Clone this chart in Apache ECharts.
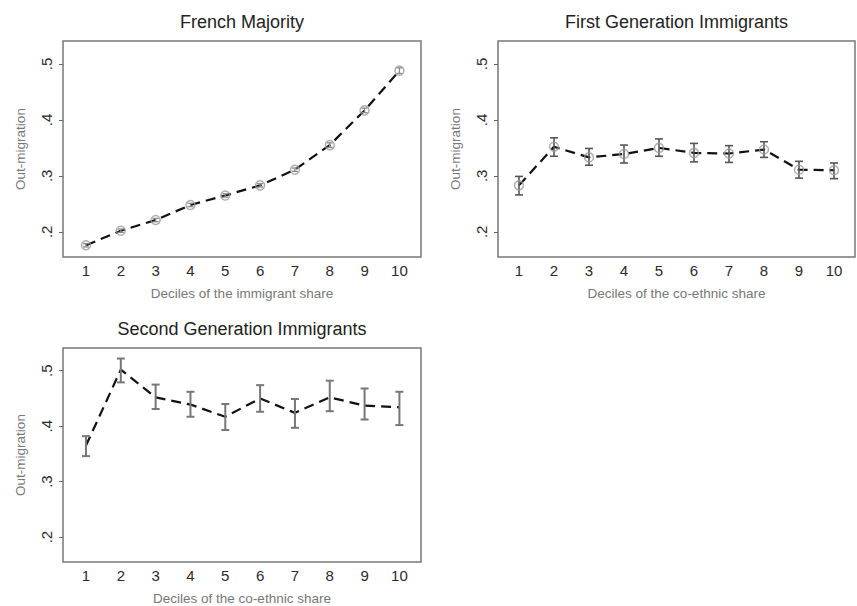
<!DOCTYPE html>
<html><head><meta charset="utf-8">
<script src="https://cdn.jsdelivr.net/npm/echarts@6/dist/echarts.min.js"></script>
<style>html,body{margin:0;padding:0;background:#fff}#c{width:857px;height:606px}</style>
</head><body><div id="c"></div>
<script>
const deciles = [1,2,3,4,5,6,7,8,9,10];
const yTicks = [0.2,0.3,0.4,0.5];
const titles = ['French Majority','First Generation Immigrants','Second Generation Immigrants'];
const xNames = ['Deciles of the immigrant share','Deciles of the co-ethnic share','Deciles of the co-ethnic share'];
const yName = 'Out-migration';

const frenchMean = [0.176,0.202,0.221,0.248,0.265,0.283,0.311,0.355,0.417,0.488];
const frenchHi   = [0.179,0.205,0.224,0.251,0.268,0.286,0.314,0.359,0.421,0.493];
const frenchLo   = [0.173,0.199,0.218,0.245,0.262,0.280,0.308,0.351,0.413,0.483];

const firstMean = [0.283,0.352,0.333,0.339,0.350,0.341,0.340,0.347,0.311,0.310];
const firstHi   = [0.299,0.368,0.349,0.355,0.366,0.358,0.354,0.361,0.326,0.323];
const firstLo   = [0.266,0.335,0.319,0.323,0.335,0.325,0.324,0.333,0.296,0.295];

const secondMean = [0.365,0.502,0.452,0.439,0.417,0.450,0.424,0.452,0.437,0.434];
const secondHi   = [0.382,0.522,0.475,0.462,0.440,0.474,0.449,0.482,0.468,0.462];
const secondLo   = [0.346,0.479,0.431,0.417,0.393,0.426,0.397,0.427,0.412,0.402];

const FONT = 'Liberation Sans, Arial, sans-serif';
const panels = [
  {mean: frenchMean, hi: frenchHi, lo: frenchLo, grid:{left:63, top:41, width:358, height:216}, xr:[0.34,10.62], marker:true, errColor:'#8a8a8a', errW:1.3, cap:6},
  {mean: firstMean, hi: firstHi, lo: firstLo, grid:{left:498, top:41, width:357, height:216}, xr:[0.4,10.6], marker:true, errColor:'#555', errW:1.6, cap:8},
  {mean: secondMean, hi: secondHi, lo: secondLo, grid:{left:63, top:348, width:358, height:217}, xr:[0.34,10.62], marker:false, errColor:'#777', errW:2, cap:8}
];

function errRender(color, width, cap){
  return function(params, api){
    const x = api.value(0), lo = api.value(1), hi = api.value(2);
    const p1 = api.coord([x, lo]), p2 = api.coord([x, hi]);
    const st = {stroke: color, lineWidth: width, fill: null};
    return {type:'group', children:[
      {type:'line', shape:{x1:p1[0], y1:p1[1], x2:p2[0], y2:p2[1]}, style:st},
      {type:'line', shape:{x1:p1[0]-cap/2, y1:p1[1], x2:p1[0]+cap/2, y2:p1[1]}, style:st},
      {type:'line', shape:{x1:p2[0]-cap/2, y1:p2[1], x2:p2[0]+cap/2, y2:p2[1]}, style:st}
    ]};
  };
}

const grid = [], xAxis = [], yAxis = [], series = [], graphic = [];
panels.forEach((p, i) => {
  grid.push(Object.assign({show:true, borderColor:'#777', borderWidth:1.5, backgroundColor:'#fff'}, p.grid));
  xAxis.push({
    gridIndex:i, type:'value', min:p.xr[0], max:p.xr[1],
    axisLine:{show:false}, axisTick:{show:false}, splitLine:{show:false},
    axisLabel:{customValues:deciles, fontSize:15, color:'#2a2a2a', margin:6, fontFamily:FONT},
    name:xNames[i], nameLocation:'middle', nameGap:29,
    nameTextStyle:{fontSize:13.5, color:'#777', fontFamily:FONT}
  });
  yAxis.push({
    gridIndex:i, type:'value', min:0.155, max:0.541,
    axisLine:{show:false}, splitLine:{show:false},
    axisTick:{show:true, length:4, customValues:yTicks, lineStyle:{color:'#666', width:1}},
    axisLabel:{customValues:yTicks, rotate:90, fontSize:15, color:'#2a2a2a', margin:9, fontFamily:FONT,
      formatter: v => '.' + Math.round(v*10)},
    name:yName, nameLocation:'middle', nameGap:36, nameRotate:90,
    nameTextStyle:{fontSize:13.5, color:'#777', fontFamily:FONT}
  });
  const pts = deciles.map((d, k) => [d, p.mean[k]]);
  const errs = deciles.map((d, k) => [d, p.lo[k], p.hi[k]]);
  series.push({
    type:'line', xAxisIndex:i, yAxisIndex:i, data:pts, symbol:'none', silent:true, z:3,
    lineStyle:{color:'#111', width:2.2, type:[10,6]}
  });
  series.push({
    type:'custom', xAxisIndex:i, yAxisIndex:i, data:errs, silent:true, z:4,
    encode:{x:0, y:[1,2]}, renderItem: errRender(p.errColor, p.errW, p.cap)
  });
  if (p.marker) {
    series.push({
      type:'scatter', xAxisIndex:i, yAxisIndex:i, data:pts, symbol:'circle', symbolSize:9, silent:true, z:5,
      itemStyle:{color:'rgba(255,255,255,0)', borderColor:'#9a9a9a', borderWidth:1.5}
    });
  }
  const cx = p.grid.left + p.grid.width/2;
  const cy = p.grid.top - 19;
  graphic.push({type:'text', x:cx, y:cy, silent:true,
    style:{text:titles[i], align:'center', verticalAlign:'middle', textAlign:'center', textVerticalAlign:'middle',
      fontSize:18, fontFamily:FONT, fill:'#222'}});
});

const chart = echarts.init(document.getElementById('c'), null, {renderer:'svg'});
chart.setOption({animation:false, backgroundColor:'#fff', grid, xAxis, yAxis, series, graphic});
</script>
</body></html>
